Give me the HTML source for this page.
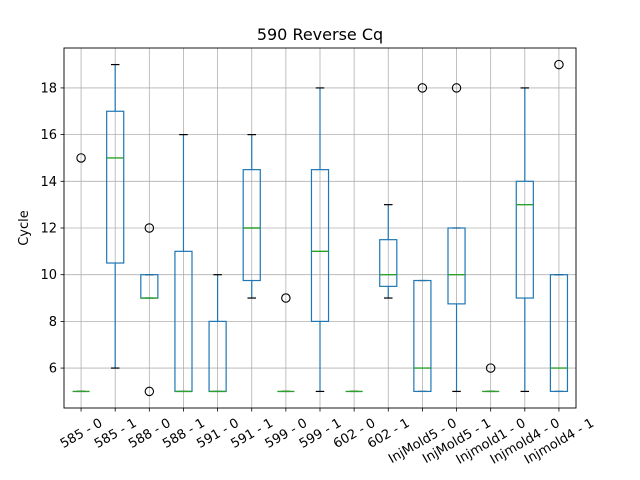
<!DOCTYPE html>
<html><head><meta charset="utf-8"><style>
body{margin:0;background:#fff;}
svg{display:block;font-family:"DejaVu Sans","Liberation Sans",sans-serif;}
</style></head><body>
<svg id="chart" width="640" height="480">
<rect width="640" height="480" fill="#fff"/>
<text x="320" y="40" text-anchor="middle" font-size="16">590 Reverse Cq</text>
<g id="grid"></g><g id="boxes"></g><g id="axes"></g>
<text x="0" y="0" transform="translate(28,228) rotate(-90)" text-anchor="middle" font-size="13">Cycle</text>
<text x="310" y="491" text-anchor="middle" font-size="13">Injector - Mold</text>
</svg>
<script>
const categories=["585 - 0","585 - 1","588 - 0","588 - 1","591 - 0","591 - 1","599 - 0","599 - 1","602 - 0","602 - 1","InjMold5 - 0","InjMold5 - 1","Injmold1 - 0","Injmold4 - 0","Injmold4 - 1"];
const whiskerLow=[5,6,9,5,5,9,5,5,5,9,5,5,5,5,5];
const q1=[5,10.5,9,5,5,9.75,5,8,5,9.5,5,8.75,5,9,5];
const medians=[5,15,9,5,5,12,5,11,5,10,6,10,5,13,6];
const q3=[5,17,10,11,8,14.5,5,14.5,5,11.5,9.75,12,5,14,10];
const whiskerHigh=[5,19,10,16,10,16,5,18,5,13,9.75,12,5,18,10];
const outliers=[[15],[],[12,5],[],[],[],[9],[],[],[],[18],[18],[6],[],[19]];
const yTicks=[6,8,10,12,14,16,18];
const L=64,R=576,T=48,B=408,ymin=4.29,ymax=19.71;
const ns="http://www.w3.org/2000/svg";
const step=(R-L)/categories.length;
const xs=i=>L+step*(i+0.5);
const ys=v=>B-(v-ymin)/(ymax-ymin)*(B-T);
function mk(tag,attrs,parent){const e=document.createElementNS(ns,tag);for(const k in attrs)e.setAttribute(k,attrs[k]);parent.appendChild(e);return e;}
const grid=document.getElementById('grid'),boxes=document.getElementById('boxes'),axes=document.getElementById('axes');
yTicks.forEach(t=>{const y=ys(t);
 const g=mk('line',{x1:L,x2:R,y1:y,y2:y,stroke:'#b0b0b0','stroke-width':0.8},grid);
 
 
 mk('line',{x1:L-3.5,x2:L,y1:y,y2:y,stroke:'#000','stroke-width':0.8},axes);
 const tx=mk('text',{x:L-7,y:y+4.5,'text-anchor':'end','font-size':13},axes);tx.textContent=t;
 
 
});
categories.forEach((c,i)=>{const x=xs(i);
 const g=mk('line',{x1:x,x2:x,y1:T,y2:B,stroke:'#b0b0b0','stroke-width':0.8},grid);
 
 
 mk('line',{x1:x,x2:x,y1:B,y2:B+3.5,stroke:'#000','stroke-width':0.8},axes);
 const tx=mk('text',{x:0,y:4.5,'text-anchor':'middle','font-size':13},axes);tx.textContent=c;
 
 
 const w=tx.getComputedTextLength(),h=15;
 const bh=w*0.5+h*0.866;
 tx.setAttribute('transform',`translate(${x},${B+7+bh/2}) rotate(-30)`);
 const grp=mk('g',{},boxes);
 
 
 const hw=step*0.25,cw=step*0.125,col='#1f77b4';
 mk('line',{x1:x,x2:x,y1:ys(q3[i]),y2:ys(whiskerHigh[i]),stroke:col,'stroke-width':1.2},grp);
 mk('line',{x1:x,x2:x,y1:ys(q1[i]),y2:ys(whiskerLow[i]),stroke:col,'stroke-width':1.2},grp);
 mk('line',{x1:x-cw,x2:x+cw,y1:ys(whiskerHigh[i]),y2:ys(whiskerHigh[i]),stroke:'#000','stroke-width':1.2},grp);
 mk('line',{x1:x-cw,x2:x+cw,y1:ys(whiskerLow[i]),y2:ys(whiskerLow[i]),stroke:'#000','stroke-width':1.2},grp);
 mk('rect',{x:x-hw,y:ys(q3[i]),width:2*hw,height:Math.max(0,ys(q1[i])-ys(q3[i])),fill:'none',stroke:col,'stroke-width':1.2},grp);
 mk('line',{x1:x-hw,x2:x+hw,y1:ys(medians[i]),y2:ys(medians[i]),stroke:'#2ca02c','stroke-width':1.4},grp);
 outliers[i].forEach(o=>{const ci=mk('circle',{cx:x,cy:ys(o),r:4.2,fill:'none',stroke:'#000','stroke-width':1.1},grp);
  
  });
});
const fr=mk('rect',{x:L,y:T,width:R-L,height:B-T,fill:'none',stroke:'#000','stroke-width':0.9},axes);


</script>
</body></html>
